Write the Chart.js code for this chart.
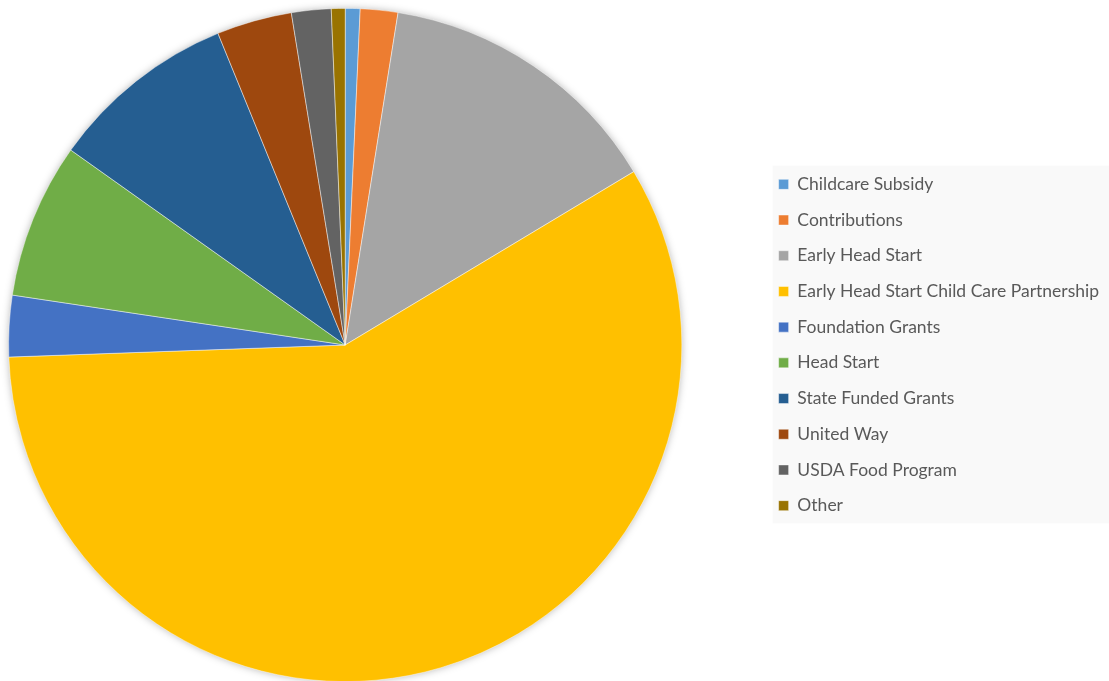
<!DOCTYPE html>
<html>
<head>
<meta charset="utf-8">
<script src="https://cdn.jsdelivr.net/npm/chart.js@4.4.1/dist/chart.umd.min.js"></script>
<style>
  html, body { margin: 0; padding: 0; background: #fff; overflow: hidden; }
  #wrap { position: absolute; left: -70px; top: 0; width: 1179px; height: 690px; }
</style>
</head>
<body>
<div id="wrap"><canvas id="pie-chart"></canvas></div>
<script>
// funding sources, percent of total
const sources = [
  "Childcare Subsidy",
  "Contributions",
  "Early Head Start",
  "Early Head Start Child Care Partnership",
  "Foundation Grants",
  "Head Start",
  "State Funded Grants",
  "United Way",
  "USDA Food Program",
  "Other",
];
const shares = [0.71, 1.80, 13.88, 58.04, 2.94, 7.46, 9.00, 3.61, 1.90, 0.66];
const sliceColors = [
  "#5B9BD5", "#ED7D31", "#A5A5A5", "#FFC000", "#4472C4",
  "#70AD47", "#255E91", "#9E480E", "#636363", "#997300",
];

// soft shadow behind the pie + grey panel behind the legend
const pieDecor = {
  id: "pieDecor",
  beforeDraw(chart) {
    const ctx = chart.ctx;
    const boxes = chart.legend.legendHitBoxes;
    if (!boxes || !boxes.length) return;
    const first = boxes[0];
    const last = boxes[boxes.length - 1];
    const left = first.left - 6;
    const top = first.top - 10;
    ctx.save();
    ctx.fillStyle = "#f9f9f9";
    ctx.fillRect(left, top, chart.legend.right - left, last.top + last.height + 9 - top);
    ctx.restore();
  },
  beforeDatasetsDraw(chart) {
    const arc = chart.getDatasetMeta(0).data[0];
    if (!arc) return;
    const ctx = chart.ctx;
    ctx.save();
    ctx.shadowColor = "rgba(0,0,0,0.35)";
    ctx.shadowBlur = 9;
    ctx.fillStyle = "#ffffff";
    ctx.beginPath();
    ctx.arc(arc.x, arc.y, arc.outerRadius - 1, 0, Math.PI * 2);
    ctx.fill();
    ctx.restore();
  },
};

var ctx = document.getElementById("pie-chart").getContext("2d");
var pieChart = new Chart(ctx, {
  type: "pie",
  data: {
    labels: sources,
    datasets: [{
      data: shares,
      backgroundColor: sliceColors,
      borderColor: "rgba(255,255,255,0.6)",
      borderWidth: 0.75,
    }],
  },
  options: {
    responsive: true,
    maintainAspectRatio: false,
    animation: false,
    layout: { padding: { left: 0, top: 8, right: 0, bottom: 8 } },
    plugins: {
      tooltip: { enabled: false },
      legend: {
        position: "right",
        labels: {
          boxWidth: 10,
          boxHeight: 10,
          padding: 18.2,
          color: "#595959",
          font: { family: "Lato", size: 17.5 },
        },
      },
    },
  },
  plugins: [pieDecor],
});
</script>
</body>
</html>
